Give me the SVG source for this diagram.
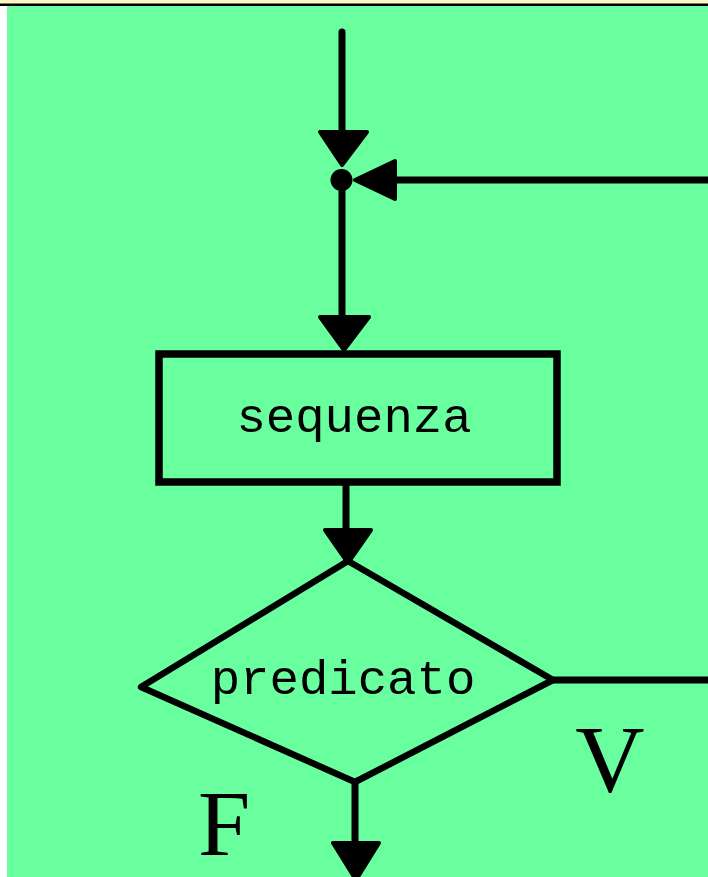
<svg xmlns="http://www.w3.org/2000/svg" width="708" height="877" viewBox="0 0 708 877">
<style>
.ln{stroke:#000;stroke-width:7;fill:none;stroke-linecap:round}
.ah{fill:#000;stroke:#000;stroke-width:4;stroke-linejoin:round}
.shape{fill:none;stroke:#000;stroke-width:7}
.mono{font-family:"Liberation Mono","Courier New",monospace;font-size:49px;fill:#000;text-anchor:middle}
.serif{font-family:"Liberation Serif","Times New Roman",serif;fill:#000}
</style>
<rect x="0" y="0" width="708" height="877" fill="#ffffff"/>
<rect x="0" y="0" width="708" height="3.5" fill="#fff6c2"/>
<rect x="0" y="3.5" width="708" height="2.5" fill="#000"/>
<rect x="7" y="6" width="701" height="871" fill="#6aff9e"/>
<g id="connectors">
<line class="ln" x1="342" y1="32" x2="342" y2="136"/>
<line class="ln" x1="342" y1="180" x2="342" y2="320"/>
<line class="ln" x1="395" y1="180" x2="712" y2="180" style="stroke-linecap:butt"/>
<line class="ln" x1="346" y1="486" x2="346" y2="532"/>
<line class="ln" x1="553" y1="680" x2="712" y2="680" style="stroke-linecap:butt"/>
<line class="ln" x1="355" y1="782" x2="355" y2="846"/>
<circle cx="341.5" cy="180" r="11" fill="#000"/>
<polygon class="ah" points="320,132 367,132 342,165"/>
<polygon class="ah" points="395,161 395,199 355,180"/>
<polygon class="ah" points="320,317 369,317 344,350"/>
<polygon class="ah" points="325,530 371,530 348,563"/>
<polygon class="ah" points="333,843 379,843 356,880"/>
</g>
<g id="sequenza">
<rect class="shape" x="159" y="354" width="398" height="128" style="stroke-width:7.5"/>
<text class="mono" x="354" y="432">sequenza</text>
</g>
<g id="predicato">
<polygon class="shape" points="348,561 553,680 355,782 141,687" style="stroke-width:6.5;stroke-linejoin:round"/>
<text class="mono" x="343" y="694">predicato</text>
</g>
<text class="serif" x="610" y="792" font-size="96" text-anchor="middle">V</text>
<text class="serif" x="198" y="855" font-size="94">F</text>
</svg>
